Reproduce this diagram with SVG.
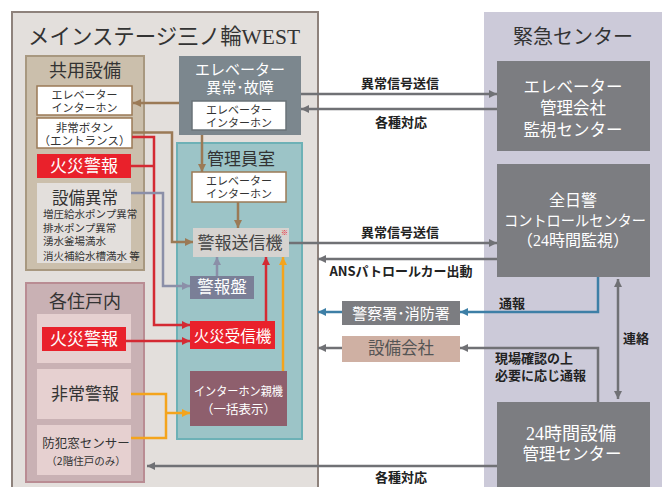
<svg xmlns="http://www.w3.org/2000/svg" width="662" height="487" viewBox="0 0 662 487">
<defs>
<style>
text{font-family:"Noto Sans CJK JP","Liberation Sans",sans-serif;}
.mn{font-family:"Liberation Serif","Noto Sans CJK JP",serif;}
.lb{font-size:13px;font-weight:bold;fill:#222;}
.c{text-anchor:middle;}
.w{fill:#fff;}
.d{fill:#333;}
.ln{fill:none;stroke-width:2.5;}
.br{stroke:#9b7a56;}
.rd{stroke:#d42a33;}
.sl{stroke:#8b8fa8;}
.or{stroke:#f4a41c;}
.gy{stroke:#707175;}
.bl{stroke:#3d7fa6;}
.sm{font-size:11px;fill:#333;}
</style>
<marker id="aBr" viewBox="0 0 10 10" refX="10" refY="5" markerWidth="10" markerHeight="8" markerUnits="userSpaceOnUse" orient="auto"><path d="M0,0L10,5L0,10z" fill="#9b7a56"/></marker>
<marker id="aRd" viewBox="0 0 10 10" refX="10" refY="5" markerWidth="10" markerHeight="8" markerUnits="userSpaceOnUse" orient="auto"><path d="M0,0L10,5L0,10z" fill="#d42a33"/></marker>
<marker id="aSl" viewBox="0 0 10 10" refX="10" refY="5" markerWidth="10" markerHeight="8" markerUnits="userSpaceOnUse" orient="auto"><path d="M0,0L10,5L0,10z" fill="#8b8fa8"/></marker>
<marker id="aOr" viewBox="0 0 10 10" refX="10" refY="5" markerWidth="10" markerHeight="8" markerUnits="userSpaceOnUse" orient="auto"><path d="M0,0L10,5L0,10z" fill="#f4a41c"/></marker>
<marker id="aGy" viewBox="0 0 10 10" refX="10" refY="5" markerWidth="12" markerHeight="8" markerUnits="userSpaceOnUse" orient="auto-start-reverse"><path d="M0,0L10,5L0,10z" fill="#707175"/></marker>
<marker id="aBl" viewBox="0 0 10 10" refX="10" refY="5" markerWidth="12" markerHeight="8" markerUnits="userSpaceOnUse" orient="auto"><path d="M0,0L10,5L0,10z" fill="#3d7fa6"/></marker>
</defs>
<rect width="662" height="487" fill="#fff"/>

<g id="mainstage">
<rect x="12" y="12" width="306" height="490" fill="#e3dfdc" stroke="#8e827c" stroke-width="2"/>
<text class="mn" x="164" y="44" text-anchor="middle" font-size="22" fill="#333" textLength="272" lengthAdjust="spacingAndGlyphs">メインステージ三ノ輪WEST</text>
</g>
<g id="emergency">
<rect x="484" y="12" width="180" height="480" fill="#cccad9"/>
<text class="c" x="573" y="44" font-size="20" fill="#333">緊急センター</text>
</g>

<g id="kyoyo">
<rect x="26" y="56" width="118" height="214" fill="#cbbfac" stroke="#a89880" stroke-width="2"/>
<text class="c" x="85" y="77" font-size="18" fill="#333">共用設備</text>
</g>
<g id="k-elev">
<rect x="37" y="86" width="95" height="29" fill="#fff" stroke="#9b7a56" stroke-width="1.5"/>
<text class="c sm"><tspan x="84.5" y="98.5">エレベーター</tspan><tspan x="84.5" y="111.5">インターホン</tspan></text>
</g>
<g id="k-button">
<rect x="37" y="118" width="95" height="30" fill="#fff" stroke="#9b7a56" stroke-width="1.5"/>
<text class="c" font-size="11.5" fill="#333"><tspan x="84.5" y="131.5">非常ボタン</tspan><tspan x="84.5" y="144.5">（エントランス）</tspan></text>
</g>
<g id="k-fire">
<rect x="37" y="154" width="94" height="24" fill="#e9212b"/>
<text class="c w" x="84" y="172" font-size="17">火災警報</text>
</g>
<g id="k-equip">
<rect x="37" y="183" width="94" height="80" fill="#e3dfdc"/>
<text class="c d" x="85" y="204" font-size="16.5">設備異常</text>
<text class="d" font-size="10.5"><tspan x="43" y="218">増圧給水ポンプ異常</tspan><tspan x="43" y="232">排水ポンプ異常</tspan><tspan x="43" y="245">湧水釜場満水</tspan><tspan x="43" y="260">消火補給水槽満水 等</tspan></text>
</g>

<g id="elev-fault">
<rect x="179" y="56" width="122" height="79" fill="#7c878e"/>
<text class="c w mn" font-size="15"><tspan x="240" y="75">エレベーター</tspan><tspan x="240" y="93">異常･故障</tspan></text>
<rect x="192" y="101" width="94" height="29" fill="#fff" stroke="#6a7378" stroke-width="1.5"/>
<text class="c sm"><tspan x="239" y="113.5">エレベーター</tspan><tspan x="239" y="126.5">インターホン</tspan></text>
</g>

<g id="kanri">
<rect x="177" y="143" width="125" height="296" fill="#9cc4c7" stroke="#6db1b6" stroke-width="2"/>
<text class="c" x="241" y="165" font-size="17" fill="#333">管理員室</text>
</g>
<g id="kanri-elev">
<rect x="192" y="172" width="94" height="30" fill="#fff" stroke="#9b7a56" stroke-width="1.5"/>
<text class="c sm"><tspan x="239" y="185">エレベーター</tspan><tspan x="239" y="198">インターホン</tspan></text>
</g>
<g id="transmitter">
<rect x="193" y="228" width="96" height="29" fill="#d6d3d0"/>
<text class="c" x="240" y="249" font-size="17" fill="#444">警報送信機</text>
<text x="281" y="235" font-size="7" fill="#e9212b">※</text>
</g>
<g id="panel">
<rect x="190" y="276" width="64" height="23" fill="#7a7f97"/>
<text class="c w" x="222" y="293" font-size="16.5">警報盤</text>
</g>
<g id="fire-receiver">
<rect x="190" y="321" width="85" height="28" fill="#e9212b"/>
<text class="c w" x="232.5" y="341.5" font-size="15.5">火災受信機</text>
</g>
<g id="intercom-master">
<rect x="190" y="371" width="97" height="55" fill="#8e5f6d"/>
<text class="c w" x="238.5" y="396" font-size="12.5" textLength="89" lengthAdjust="spacingAndGlyphs">インターホン親機</text>
<text class="c w" x="238.5" y="414" font-size="12.5">（一括表示）</text>
</g>

<g id="jyuko">
<rect x="26" y="283" width="118" height="199" fill="#c9b1b4" stroke="#b98c93" stroke-width="2"/>
<text class="c" x="85" y="308" font-size="18" fill="#333">各住戸内</text>
</g>
<g id="j-fire">
<rect x="37" y="314" width="94" height="49" fill="#e6d0d0"/>
<rect x="42" y="327" width="84" height="24" fill="#e9212b"/>
<text class="c w" x="84" y="345" font-size="17">火災警報</text>
</g>
<g id="j-alarm">
<rect x="37" y="369" width="94" height="50" fill="#e6d0d0"/>
<text class="c d" x="85" y="400" font-size="17">非常警報</text>
</g>
<g id="j-sensor">
<rect x="37" y="425" width="94" height="50" fill="#e6d0d0"/>
<text class="c d"><tspan x="86" y="448" font-size="12.5">防犯窓センサー</tspan><tspan x="86" y="465" font-size="10.5">（2階住戸のみ）</tspan></text>
</g>

<g id="elev-center">
<rect x="497" y="61" width="153" height="90" fill="#7c7d81"/>
<text class="c w mn" font-size="16.5"><tspan x="573" y="93">エレベーター</tspan><tspan x="573" y="114">管理会社</tspan><tspan x="573" y="136">監視センター</tspan></text>
</g>
<g id="zennikkei">
<rect x="497" y="164" width="153" height="113" fill="#7c7d81"/>
<text class="c w mn" x="573" y="206" font-size="16">全日警</text>
<text class="c w mn" x="575" y="226" font-size="15" textLength="142" lengthAdjust="spacingAndGlyphs">コントロールセンター</text>
<text class="c w mn" x="573" y="246" font-size="16">（24時間監視）</text>
</g>
<g id="setsubi-center">
<rect x="497" y="402" width="153" height="90" fill="#7c7d81"/>
<text class="c w mn"><tspan x="571" y="440" font-size="18">24時間設備</tspan><tspan x="572" y="460" font-size="16.5">管理センター</tspan></text>
</g>
<g id="police">
<rect x="342" y="301" width="118" height="24" fill="#7c7d81"/>
<text class="c w" x="401" y="319" font-size="15">警察署･消防署</text>
</g>
<g id="setsubi-company">
<rect x="342" y="336" width="118" height="26" fill="#cfb0a3"/>
<text class="c" x="401" y="354" font-size="16.5" fill="#555">設備会社</text>
</g>

<g id="connectors">
<path class="ln br" d="M179,103H133" marker-end="url(#aBr)"/>
<path class="ln br" d="M202,135V172" marker-end="url(#aBr)"/>
<path class="ln br" d="M238,202V228" marker-end="url(#aBr)"/>
<path class="ln br" d="M132,132.5H172V242H193" marker-end="url(#aBr)"/>
<path class="ln rd" d="M132,137H154V325H190" marker-end="url(#aRd)"/>
<path class="ln rd" d="M131,166H154"/>
<path class="ln rd" d="M126,341H190" marker-end="url(#aRd)"/>
<path class="ln rd" d="M266,321V257" marker-end="url(#aRd)"/>
<path class="ln sl" d="M131,193H163V286H190" marker-end="url(#aSl)"/>
<path class="ln sl" d="M217,276V257" marker-end="url(#aSl)"/>
<path class="ln or" d="M283,371V257" marker-end="url(#aOr)"/>
<path class="ln or" d="M131,394H166V438H131"/>
<path class="ln or" d="M166,413H190" marker-end="url(#aOr)"/>
<path class="ln gy" d="M301,94H497" marker-end="url(#aGy)"/>
<path class="ln gy" d="M497,109H301" marker-end="url(#aGy)"/>
<path class="ln gy" d="M289,243H497" marker-end="url(#aGy)"/>
<path class="ln gy" d="M497,259H318" marker-end="url(#aGy)"/>
<path class="ln bl" d="M598,277V312H460" marker-end="url(#aBl)"/>
<path class="ln bl" d="M342,312H318" marker-end="url(#aBl)"/>
<path class="ln gy" d="M598,402V348H460" marker-end="url(#aGy)"/>
<path class="ln gy" d="M342,348H318" marker-end="url(#aGy)"/>
<path class="ln gy" d="M618,279V399" marker-start="url(#aGy)" marker-end="url(#aGy)"/>
<path class="ln gy" d="M497,466H147" marker-end="url(#aGy)"/>
<text class="lb c" x="400" y="88">異常信号送信</text>
<text class="lb c" x="401" y="127">各種対応</text>
<text class="lb c" x="400" y="237">異常信号送信</text>
<text class="lb c" x="401" y="276" font-size="12.5">ANSパトロールカー出動</text>
<text class="lb" x="499" y="308">通報</text>
<text class="lb"><tspan x="495" y="363">現場確認の上</tspan><tspan x="495" y="380">必要に応じ通報</tspan></text>
<text class="lb" x="623" y="343">連絡</text>
<text class="lb c" x="401" y="482">各種対応</text>
</g>
</svg>
